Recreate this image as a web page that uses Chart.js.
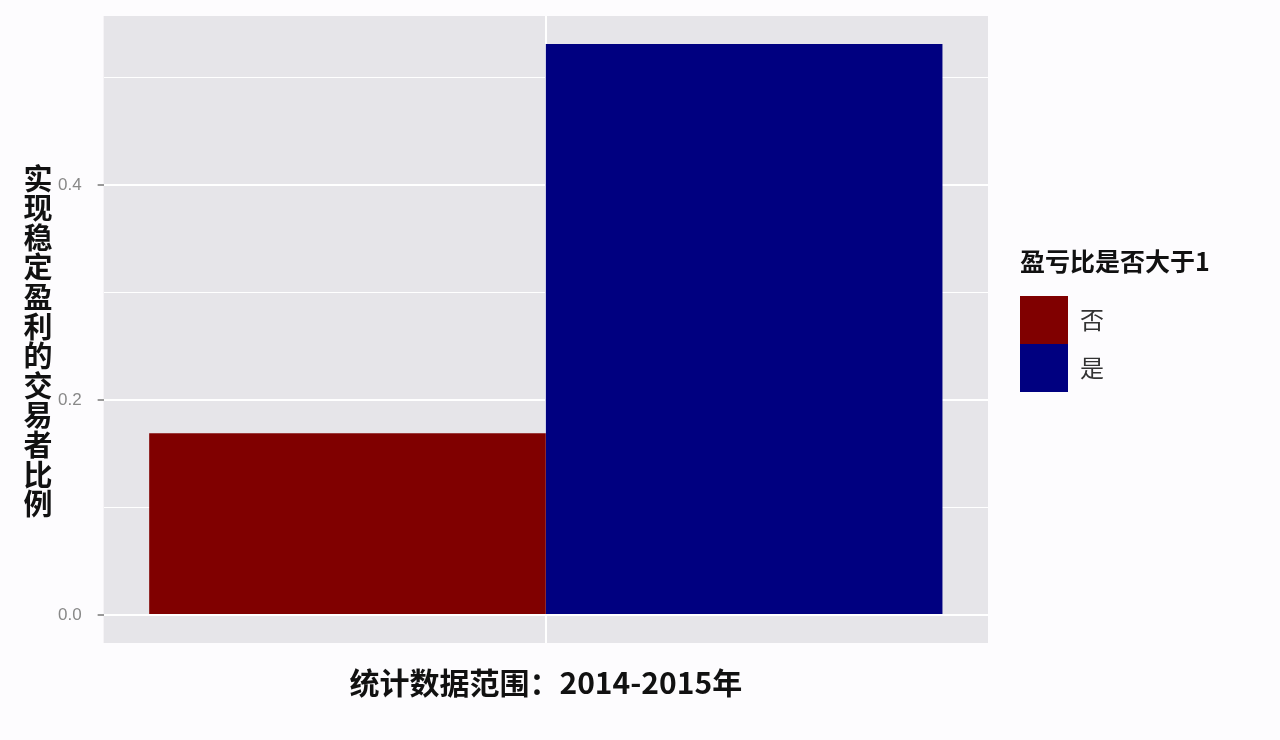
<!DOCTYPE html>
<html>
<head>
<meta charset="utf-8">
<script src="https://cdn.jsdelivr.net/npm/chart.js@4"></script>
<style>
  body { margin: 0; background: #fdfcfe; }
  #wrap { position: relative; width: 1280px; height: 740px; }
  #ytitle {
    position: absolute; left: 17px; top: 164px;
    writing-mode: vertical-rl; text-orientation: upright;
    font: bold 29px 'Noto Sans CJK SC', sans-serif;
    letter-spacing: 0.6px; color: #111;
  }
</style>
</head>
<body>
<div id="wrap">
  <canvas id="chart" width="1280" height="740"></canvas>
  <div id="ytitle">实现稳定盈利的交易者比例</div>
</div>
<script>
document.addEventListener('DOMContentLoaded', function(){

    const categories = [''];
    const groups = ['否', '是'];
    const valuesNo = [0.169];
    const valuesYes = [0.531];
    const tickLabels = ['0.0', '0.2', '0.4'];

    // grey ggplot-like panel
    const panelBg = {
        id: 'panelBg',
        beforeDraw(chart) {
            const a = chart.chartArea;
            const c = chart.ctx;
            c.save();
            c.fillStyle = '#e6e5e9';
            c.fillRect(a.left, a.top, a.right - a.left, a.bottom - a.top);
            c.restore();
        }
    };

    const isMajor = v => Math.abs(v * 10 % 2) < 1e-6 && tickLabels.includes(v.toFixed(1));
    const noPad = s => { s.paddingTop = 0; s.paddingBottom = 0; };

    const chart = new Chart(document.querySelector('#chart'), {
        type: 'bar',
        data: {
            labels: categories,
            datasets: [
                { label: groups[0], data: valuesNo, backgroundColor: '#800000' },
                { label: groups[1], data: valuesYes, backgroundColor: '#000080' }
            ]
        },
        plugins: [panelBg],
        options: {
            responsive: false,
            animation: false,
            categoryPercentage: 0.897,
            barPercentage: 1,
            layout: { padding: { left: 42, top: 16, right: 40, bottom: 39 } },
            plugins: {
                tooltip: { enabled: false },
                legend: {
                    position: 'right',
                    align: 'start',
                    labels: {
                        boxWidth: 48,
                        boxHeight: 48,
                        padding: 0,
                        color: '#333',
                        font: { family: "'Noto Sans CJK SC', sans-serif", size: 24 }
                    },
                    title: {
                        display: true,
                        text: '盈亏比是否大于1',
                        position: 'start',
                        color: '#111',
                        padding: { top: 233, bottom: 17 },
                        font: { family: "'Noto Sans CJK SC', sans-serif", size: 25, weight: 'bold' }
                    }
                }
            },
            scales: {
                x: {
                    grid: { color: '#ffffff', lineWidth: 2, offset: false, drawTicks: false },
                    border: { display: false },
                    ticks: { display: false },
                    title: {
                        display: true,
                        text: '统计数据范围：2014-2015年',
                        color: '#111',
                        padding: { top: 22, bottom: 0 },
                        font: { family: "'Noto Sans CJK SC', sans-serif", size: 30, weight: 'bold' }
                    }
                },
                y: {
                    min: -0.026,
                    max: 0.557,
                    border: { display: false },
                    afterFit: noPad,
                    grid: {
                        color: '#ffffff',
                        lineWidth: ctx => isMajor(ctx.tick.value) ? 2 : 1,
                        tickColor: ctx => isMajor(ctx.tick.value) ? '#999' : 'rgba(0,0,0,0)',
                        tickLength: 6
                    },
                    ticks: {
                        stepSize: 0.1,
                        includeBounds: false,
                        padding: 16,
                        color: '#888',
                        font: { size: 17 },
                        callback: v => isMajor(v) ? v.toFixed(1) : ''
                    }
                },
                gap: {
                    position: 'right',
                    grid: { display: false },
                    border: { display: false },
                    ticks: { display: false },
                    afterFit: s => { s.width = 32; noPad(s); }
                }
            }
        }
    });

    // widen the legend so its title is not clipped
    const legendFit = chart.legend.fit.bind(chart.legend);
    chart.legend.fit = function() {
        legendFit();
        this.width = Math.max(this.width, 220);
    };
    chart.update();
});
</script>
</body>
</html>
